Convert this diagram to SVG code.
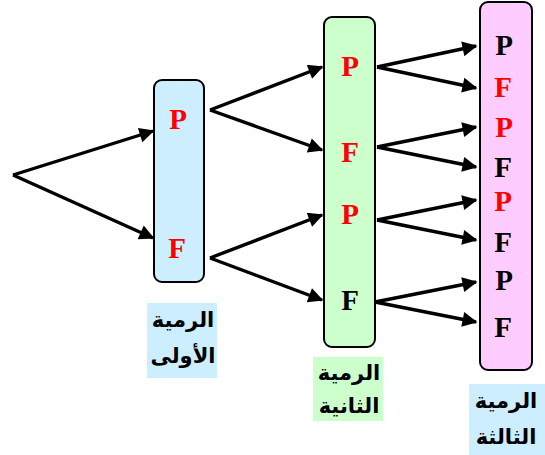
<svg xmlns="http://www.w3.org/2000/svg" width="545" height="455" viewBox="0 0 545 455">
<defs>
<marker id="ah" viewBox="0 0 10 10" refX="9" refY="5" markerWidth="19" markerHeight="15" orient="auto" markerUnits="userSpaceOnUse">
<path d="M0,0 L10,5 L0,10 z" fill="#000"/>
</marker>
<style>
.box{stroke:#000;stroke-width:2}
.t{font-family:"Liberation Serif","Times New Roman",serif;font-weight:bold;font-size:29px;text-anchor:middle}
.r{fill:#ff0000}
.k{fill:#000}
.ar{font-family:"DejaVu Sans","Noto Sans",sans-serif;font-weight:bold;font-size:21px;text-anchor:middle;fill:#000}
.c line{stroke:#000;stroke-width:3.4;marker-end:url(#ah)}
</style>
</defs>
<g class="c" id="connectors">
<line x1="13" y1="175" x2="153" y2="131"/>
<line x1="13" y1="175" x2="153" y2="238"/>
<line x1="210" y1="110" x2="322" y2="67"/>
<line x1="210" y1="110" x2="322" y2="150"/>
<line x1="210" y1="258" x2="322" y2="215"/>
<line x1="210" y1="258" x2="322" y2="300"/>
<line x1="377" y1="67" x2="476" y2="46"/>
<line x1="377" y1="67" x2="476" y2="88"/>
<line x1="377" y1="147" x2="476" y2="127"/>
<line x1="377" y1="147" x2="476" y2="167"/>
<line x1="377" y1="220" x2="476" y2="200"/>
<line x1="377" y1="220" x2="476" y2="240"/>
<line x1="375" y1="302" x2="476" y2="282"/>
<line x1="375" y1="302" x2="476" y2="322"/>
</g>
<g id="box1">
<rect class="box" x="154" y="80" width="50" height="202" rx="8" fill="#cceeff"/>
<text class="t r" x="178" y="129">P</text>
<text class="t r" x="177" y="258">F</text>
</g>
<g id="box2">
<rect class="box" x="324" y="17" width="51" height="330" rx="8" fill="#ccffcc"/>
<text class="t r" x="350" y="76">P</text>
<text class="t r" x="350" y="162">F</text>
<text class="t r" x="350" y="224">P</text>
<text class="t k" x="350" y="310">F</text>
</g>
<g id="box3">
<rect class="box" x="480" y="2" width="52" height="368" rx="8" fill="#ffccff"/>
<text class="t k" x="504" y="55">P</text>
<text class="t r" x="503" y="97">F</text>
<text class="t r" x="504" y="137">P</text>
<text class="t k" x="503" y="177">F</text>
<text class="t r" x="503" y="211">P</text>
<text class="t k" x="503" y="252">F</text>
<text class="t k" x="504" y="290">P</text>
<text class="t k" x="503" y="337">F</text>
</g>
<g id="label1">
<rect x="147" y="303" width="70" height="75" fill="#cceeff"/>
<text class="ar" x="183" y="327">الرمية</text>
<text class="ar" x="183" y="363">الأولى</text>
</g>
<g id="label2">
<rect x="313" y="357" width="70" height="64" fill="#ccffcc"/>
<text class="ar" x="349" y="380">الرمية</text>
<text class="ar" x="349" y="413">الثانية</text>
</g>
<g id="label3">
<rect x="469" y="384" width="76" height="71" fill="#cceeff"/>
<text class="ar" x="506" y="408">الرمية</text>
<text class="ar" x="506" y="444">الثالثة</text>
</g>
</svg>
